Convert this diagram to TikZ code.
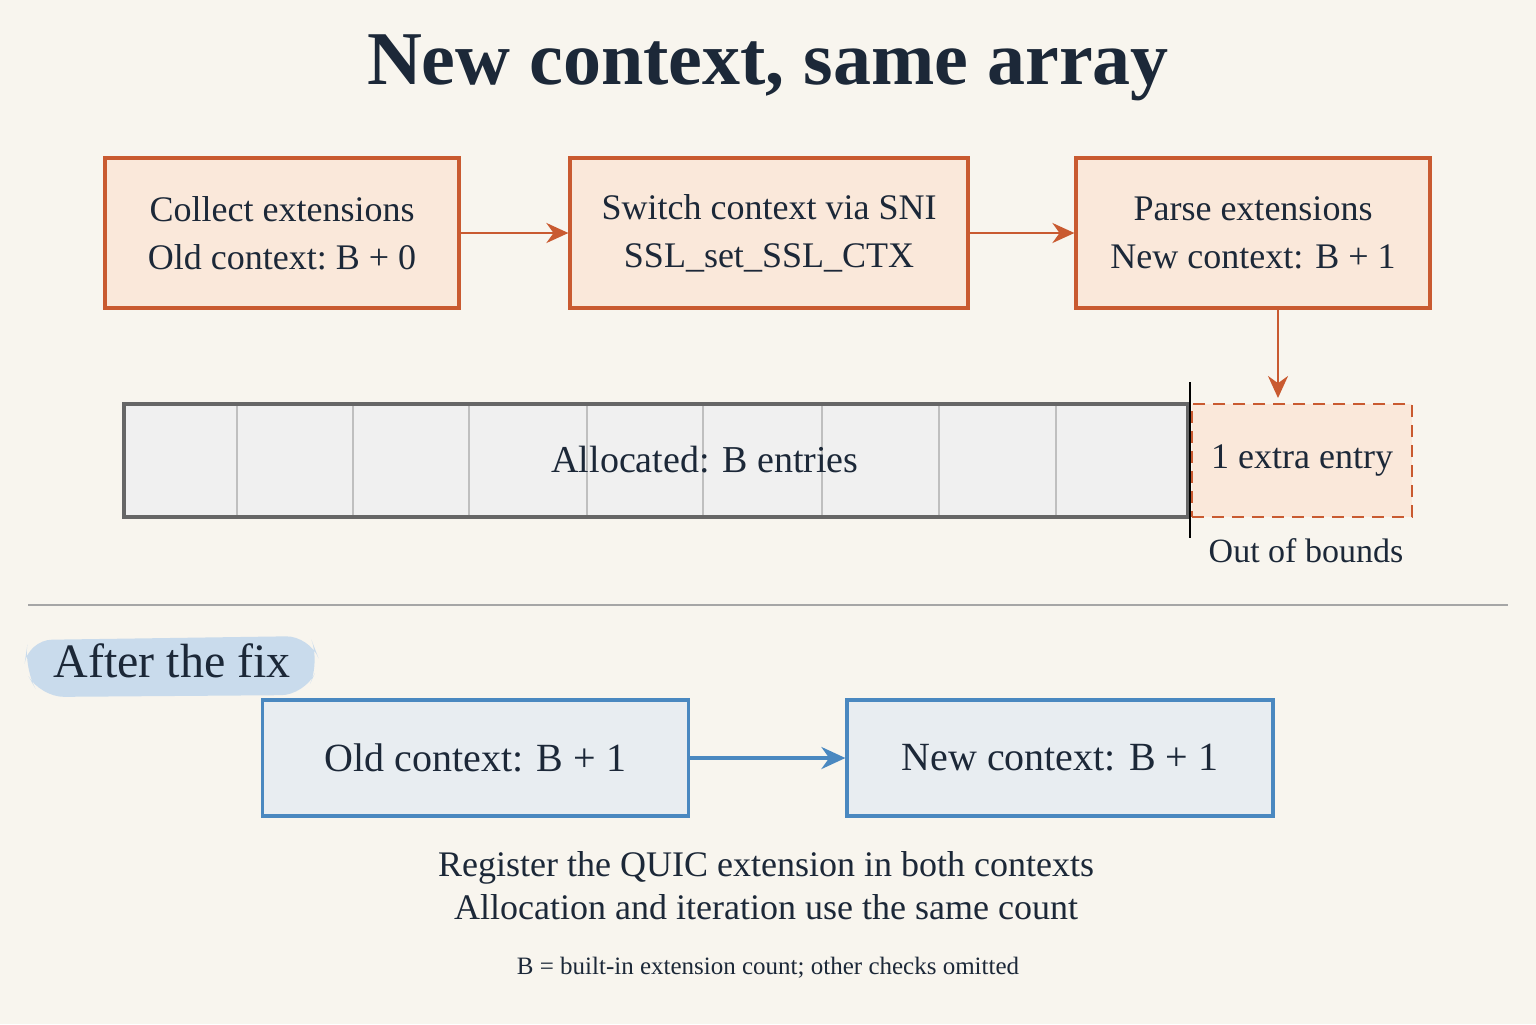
\documentclass[tikz,border=0pt]{standalone}
\usepackage{fontspec}
\setmainfont{Liberation Serif}
\usetikzlibrary{arrows.meta}
\definecolor{bg}{HTML}{F8F5EE}
\definecolor{ored}{HTML}{C95A30}
\definecolor{ofill}{HTML}{FAE8DA}
\definecolor{blu}{HTML}{4A88C0}
\definecolor{bfill}{HTML}{E8EDF1}
\definecolor{ink}{HTML}{1C2838}
\begin{document}
\begin{tikzpicture}[x=0.5pt,y=-0.5pt,
  obox/.style={draw=ored,line width=1.6pt,fill=ofill,minimum width=177pt,minimum height=75pt,align=center,font=\fontsize{18}{24}\selectfont,text=ink},
  bbox/.style={draw=blu,line width=1.6pt,fill=bfill,minimum width=213pt,minimum height=58pt,font=\fontsize{20}{24}\selectfont,text=ink},
  oarr/.style={-{Stealth[length=11pt,width=10pt]},draw=ored,line width=1.3pt},
  barr/.style={-{Stealth[length=12pt,width=11pt]},draw=blu,line width=1.8pt},
  txt/.style={text=ink}]
\fill[bg] (0,0) rectangle (1536,1024);
\useasboundingbox (0,0) rectangle (1536,1024);
\node[txt,font=\bfseries\fontsize{38}{44}\selectfont] (title) at (768,68) {New context, same array};
\node[obox] (c1) at (282,233) {Collect extensions\\Old context:\ B + 0};
\node[obox,minimum width=199pt] (c2) at (769,233) {Switch context via SNI\\SSL\_set\_SSL\_CTX};
\node[obox] (c3) at (1253,233) {Parse extensions\\New context: B + 1};
\draw[oarr] (c1) -- (c2);
\draw[oarr] (c2) -- (c3);
\coordinate (ar) at (1278,398);
\draw[oarr] (c3.south -| ar) -- (ar);
\node[draw=black!60,line width=1.8pt,fill=black!6,minimum width=532pt,minimum height=56.5pt] (arr) at (656,460.5) {};
\foreach \x in {237,353,469,587,703,822,939,1056} \draw[black!25,line width=0.8pt] (\x,406) -- (\x,515);
\node[txt,font=\fontsize{19}{23}\selectfont] (al) at (705,460) {Allocated: B entries};
\draw[black,line width=1.3pt] (1190,382) -- (1190,538);
\node[draw=ored,dashed,dash pattern=on 6pt off 4pt,line width=1.4pt,fill=ofill,minimum width=110pt,minimum height=56.5pt,font=\fontsize{18}{23}\selectfont,text=ink] (ex) at (1302,460.5) {1 extra entry};
\node[txt,font=\fontsize{17}{22}\selectfont] (oob) at (1306,551) {Out of bounds};
\draw[black!35,line width=1pt] (28,605) -- (1508,605);
\fill[blu!30,rounded corners=12pt] (28,640) -- (310,636) -- (320,662) -- (305,695) -- (40,697) -- (24,668) -- cycle;
\node[txt,font=\fontsize{24}{28}\selectfont] (af) at (172,661) {After the fix};
\node[bbox] (d1) at (475.5,758) {Old context: B + 1};
\node[bbox] (d2) at (1060,758) {New context: B + 1};
\draw[barr] (d1) -- (d2);
\node[txt,align=center,font=\fontsize{18}{21.5}\selectfont] (n1) at (766,886) {Register the QUIC extension in both contexts\\Allocation and iteration use the same count};
\node[txt,font=\fontsize{12.5}{14}\selectfont] (n2) at (768,968) {B = built-in extension count; other checks omitted};
\end{tikzpicture}
\end{document}
